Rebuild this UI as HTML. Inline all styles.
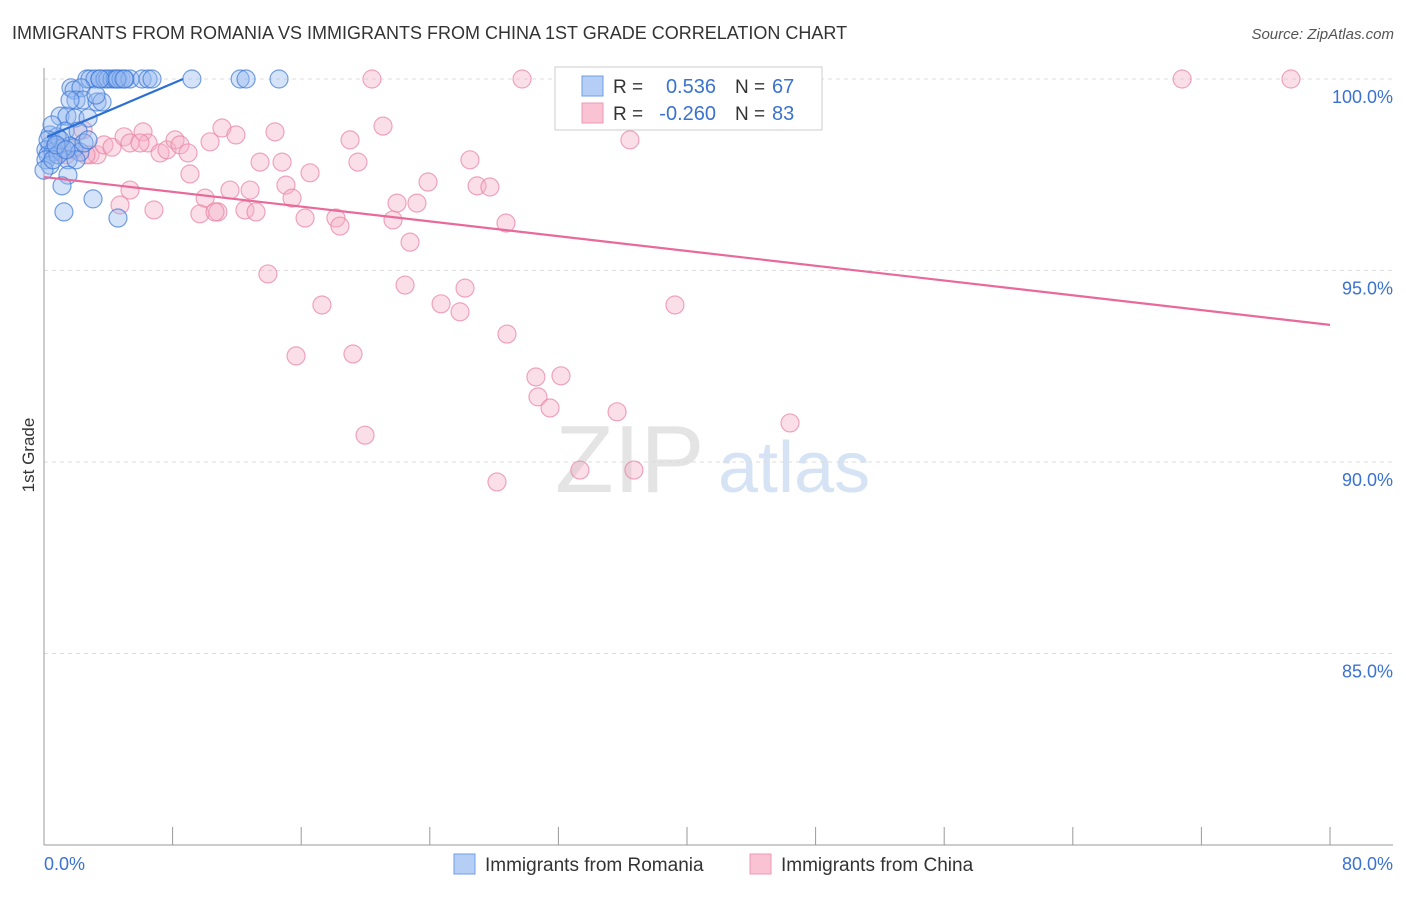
<!DOCTYPE html>
<html><head><meta charset="utf-8">
<style>
body{margin:0;background:#fff;font-family:"Liberation Sans",sans-serif;}
svg text{font-family:"Liberation Sans",sans-serif;}
</style></head>
<body>
<svg id="chart" width="1406" height="892" viewBox="0 0 1406 892">
<text x="12" y="39" font-size="18" fill="#333">IMMIGRANTS FROM ROMANIA VS IMMIGRANTS FROM CHINA 1ST GRADE CORRELATION CHART</text>
<text x="1394" y="39" font-size="15" fill="#555" font-style="italic" text-anchor="end">Source: ZipAtlas.com</text>
<text x="0" y="0" transform="translate(34,455) rotate(-90)" font-size="17" fill="#333" text-anchor="middle">1st Grade</text>
<g>
<text x="555" y="492" font-size="96" fill="#e4e4e4" font-family="Liberation Serif">ZIP</text>
<text x="718" y="492" font-size="72" fill="#d5e3f4">atlas</text>
</g>
<g id="grid"></g>
<g id="axes"></g>
<g id="points"></g>
<g id="lines"></g>
<g>
<rect x="555" y="67" width="267" height="63" fill="#fff" stroke="#ccc"/>
<rect x="582" y="76" width="21" height="20" fill="#b4cef5" stroke="#6f9de6"/>
<rect x="582" y="103" width="21" height="20" fill="#f9c3d3" stroke="#ef9ab5"/>
<text x="613" y="93" font-size="19" fill="#333">R =</text>
<text x="716" y="93" font-size="20" fill="#3a72d0" text-anchor="end">0.536</text>
<text x="735" y="93" font-size="19" fill="#333">N =</text>
<text x="772" y="93" font-size="20" fill="#3a72d0">67</text>
<text x="613" y="120" font-size="19" fill="#333">R =</text>
<text x="716" y="120" font-size="20" fill="#3a72d0" text-anchor="end">-0.260</text>
<text x="735" y="120" font-size="19" fill="#333">N =</text>
<text x="772" y="120" font-size="20" fill="#3a72d0">83</text>
</g>
<g>
<rect x="454" y="854" width="21" height="20" fill="#b4cef5" stroke="#6f9de6"/>
<text x="485" y="871" font-size="19" fill="#333">Immigrants from Romania</text>
<rect x="750" y="854" width="21" height="20" fill="#f9c3d3" stroke="#ef9ab5"/>
<text x="781" y="871" font-size="19" fill="#333">Immigrants from China</text>
</g>
</svg>
<script>
const xTicks=[0,8,16,24,32,40,48,56,64,72,80];
const yTicks=[100,95,90,85];
const yTickLabels=["100.0%","95.0%","90.0%","85.0%"];
const romaniaX=[2.67,2.86,3.17,3.48,3.8,3.98,4.23,4.42,4.6,4.79,5.04,5.35,6.1,6.47,6.72,9.2,12.2,12.57,14.62,1.68,1.87,2.3,1.99,2.43,3.3,3.61,3.23,1.0,1.43,1.93,2.74,1.31,2.12,0.37,0.81,0.37,0.12,0.68,1.12,0.25,0.56,1.62,1.87,2.24,2.49,1.49,1.99,1.49,1.12,3.05,1.24,4.6,0.12,0.37,0,0.87,2.74,0.5,1.0,1.62,3.48,4.54,4.98,0.56,0.25,0.75,1.37];
const romaniaY=[100,100,100,100,100,100,100,100,100,100,100,100,100,100,100,100,100,100,100,99.77,99.71,99.77,99.45,99.45,99.4,99.4,99.58,99.03,99.03,98.98,98.98,98.64,98.64,98.54,98.49,98.25,98.15,98.2,98.2,98.02,98.09,98.25,98.2,98.09,98.33,97.89,97.89,97.49,97.21,96.87,96.53,96.37,97.89,97.75,97.62,98.02,98.41,98.8,98.41,99.45,100,100,100,97.89,98.41,98.28,98.15];
const chinaX=[20.4,29.74,32.91,41.0,70.8,77.57,0.75,1.0,1.37,1.87,2.43,2.86,3.3,3.73,4.23,4.98,5.35,6.16,6.47,7.22,7.65,8.15,8.46,8.96,9.08,9.7,10.02,10.33,10.82,11.07,11.57,11.94,12.5,12.82,13.19,13.44,13.93,14.37,14.81,15.05,15.43,15.68,16.24,16.55,17.29,18.16,18.41,19.04,19.22,19.53,19.97,21.09,21.71,21.96,22.46,22.77,23.2,23.89,24.7,25.88,26.19,26.5,26.94,27.74,28.18,28.74,28.8,30.6,30.73,31.48,32.16,33.34,35.65,36.45,36.7,39.25,46.41,10.64,5.35,4.73,6.84,5.97,2.61];
const chinaY=[100,100,100,100,100,100,98.28,98.09,98.02,98.15,98.67,98.02,98.02,98.28,98.22,98.49,98.33,98.62,98.33,98.07,98.15,98.41,98.28,98.07,97.52,96.48,96.89,98.36,96.53,98.72,97.1,98.54,96.58,97.1,96.53,97.83,94.91,98.62,97.83,97.23,96.89,92.77,96.37,97.55,94.1,96.37,96.16,98.41,92.82,97.83,90.7,98.77,96.32,96.76,94.62,95.74,96.76,97.31,94.13,93.92,94.54,97.89,97.21,97.18,89.48,96.24,93.34,92.22,91.7,91.41,92.25,89.79,91.31,98.41,89.79,94.1,91.02,96.53,97.1,96.71,96.58,98.33,98.02];
const romaniaTrend=[[0.19,98.49],[8.65,100]];
const chinaTrend=[[0,97.44],[80,93.58]];
const NS="http://www.w3.org/2000/svg";
const xs=v=>44+v*16.075;
const ys=v=>79+(100-v)*38.3;
function mk(tag,attrs,parent){const e=document.createElementNS(NS,tag);for(const k in attrs)e.setAttribute(k,attrs[k]);parent.appendChild(e);return e;}
const grid=document.getElementById('grid'),axes=document.getElementById('axes'),pts=document.getElementById('points'),lines=document.getElementById('lines');
yTicks.forEach((t,i)=>{
 const l=mk('line',{x1:44,x2:1393,y1:ys(t),y2:ys(t),stroke:'#ddd','stroke-dasharray':'4,4'},grid);
 
 
 const tx=mk('text',{x:1393,y:ys(t)+24,'font-size':18,fill:'#3a72d0','text-anchor':'end'},axes);
 tx.textContent=yTickLabels[i];
 
 
});
const ya=mk('line',{x1:44,x2:44,y1:68,y2:845,stroke:'#999'},axes);


const xa=mk('line',{x1:44,x2:1393,y1:845,y2:845,stroke:'#999'},axes);


xTicks.forEach(t=>{
 const l=mk('line',{x1:xs(t),x2:xs(t),y1:827,y2:845,stroke:'#999'},axes);
 
 
});
const xl0=mk('text',{x:44,y:870,'font-size':18,fill:'#3a72d0'},axes);xl0.textContent=xTicks[0].toFixed(1)+'%';


const xl1=mk('text',{x:1393,y:870,'font-size':18,fill:'#3a72d0','text-anchor':'end'},axes);xl1.textContent=xTicks[xTicks.length-1].toFixed(1)+'%';


chinaX.forEach((v,i)=>{
 const c=mk('circle',{cx:xs(v),cy:ys(chinaY[i]),r:9,fill:'rgba(246,176,198,0.4)',stroke:'rgba(232,130,163,0.7)','stroke-width':1.2},pts);
 
 
});
romaniaX.forEach((v,i)=>{
 const c=mk('circle',{cx:xs(v),cy:ys(romaniaY[i]),r:9,fill:'rgba(150,186,240,0.4)',stroke:'rgba(60,120,215,0.7)','stroke-width':1.2},pts);
 
 
});
const lr=mk('line',{x1:xs(romaniaTrend[0][0]),y1:ys(romaniaTrend[0][1]),x2:xs(romaniaTrend[1][0]),y2:ys(romaniaTrend[1][1]),stroke:'#2a6fd6','stroke-width':2.2},lines);


const lc=mk('line',{x1:xs(chinaTrend[0][0]),y1:ys(chinaTrend[0][1]),x2:xs(chinaTrend[1][0]),y2:ys(chinaTrend[1][1]),stroke:'#e8699a','stroke-width':2.2},lines);


</script>
</body></html>
